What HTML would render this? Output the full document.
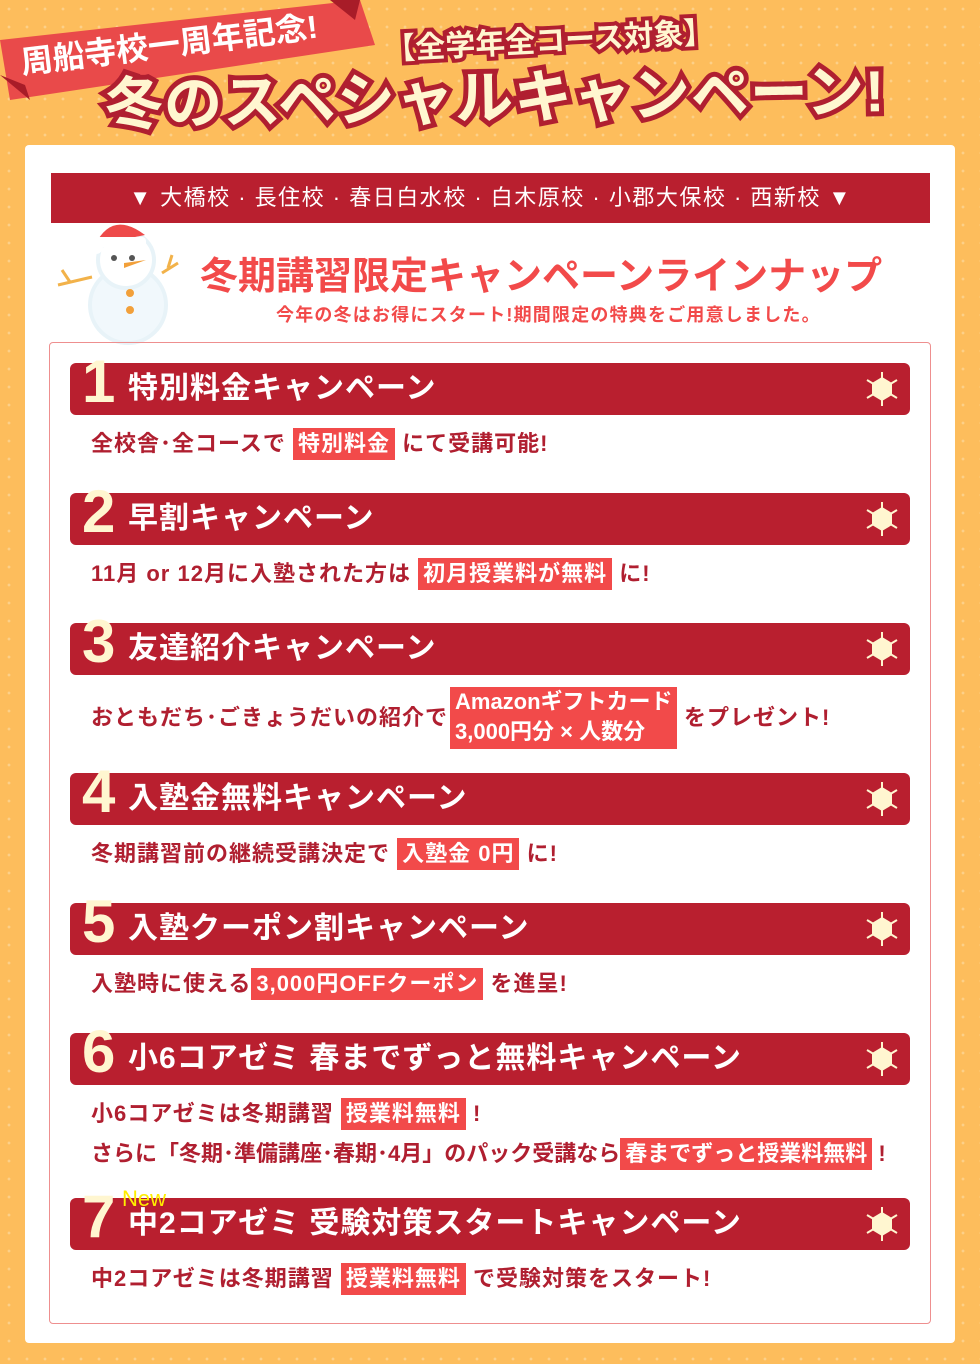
<!DOCTYPE html>
<html><head><meta charset="utf-8"><style>
*{margin:0;padding:0;box-sizing:border-box}
body{width:980px;height:1364px;position:relative;overflow:hidden;background:#fdbd5c;background-image:radial-gradient(#fcd089 1.2px,transparent 1.6px);background-size:18px 18px;font-family:"Liberation Sans","Noto Sans CJK JP",sans-serif;font-weight:bold}
.a{position:absolute;white-space:nowrap}
.panel{left:25px;top:145px;width:930px;height:1198px;background:#fff;border-radius:4px}
.loc{left:51px;top:173px;width:879px;height:50px;background:#b91f2f;color:#fff;font-weight:normal;font-size:22px;letter-spacing:1.5px;text-align:center;line-height:50px}
.box{left:49px;top:342px;width:882px;height:982px;border:1px solid #ee8f8f;border-radius:4px}
.bar{left:70px;width:840px;height:52px;background:#b91f2f;border-radius:6px;color:#fff;font-size:30px;letter-spacing:1px;line-height:52px;padding-left:58px}
.num{position:absolute;left:12px;top:-16px;font-size:60px;color:#fff6d0;line-height:70px;letter-spacing:0}
.flake{position:absolute;right:10px;top:8px;width:36px;height:36px}
.t{left:91px;color:#b01f30;font-size:22px;letter-spacing:1px;line-height:30px}
.h{background:#f24a4a;color:#fff;padding:0 5px;display:inline-block;line-height:32px}
</style></head><body>
<svg class="a" style="left:0;top:0" width="400" height="110"><polygon points="0,40 360,0 375,45 10,100" fill="#e94a4a"/><polygon points="0,75 25,85 30,100" fill="#a81c28"/><polygon points="330,0 360,0 355,20" fill="#a81c28"/></svg>
<div class="a" style="left:18px;top:38px;font-size:32px;color:#fff;transform:rotate(-7deg);transform-origin:left top">周船寺校一周年記念!</div>
<div class="a" style="left:385px;top:16px;font-size:30px;color:#fff6d0;-webkit-text-stroke:8px #b01f30;paint-order:stroke fill;transform:rotate(-3deg)">【全学年全コース対象】</div>
<div class="a" style="left:105px;top:64px;font-size:58px;line-height:70px;color:#fff6d0;-webkit-text-stroke:10px #b01f30;paint-order:stroke fill;transform:rotate(-1deg);letter-spacing:1px">冬のスペシャルキャンペーン!</div>
<div class="a panel"></div>
<div class="a loc">▼ 大橋校 · 長住校 · 春日白水校 · 白木原校 · 小郡大保校 · 西新校 ▼</div>
<svg class="a" style="left:50px;top:205px" width="130" height="140"><circle cx="78" cy="100" r="38" fill="#f1f8fc" stroke="#e8f3f8" stroke-width="4"/><circle cx="76" cy="55" r="28" fill="#fff" stroke="#e8f3f8" stroke-width="4"/><path d="M45 40 Q62 5 95 30 Z" fill="#ee4a4a"/><circle cx="46" cy="42" r="7" fill="#fff"/><rect x="44" y="32" width="52" height="10" fill="#fff" rx="4"/><circle cx="64" cy="53" r="3" fill="#555"/><circle cx="82" cy="53" r="3" fill="#555"/><path d="M74 58 L96 55 L74 63Z" fill="#f2a03a"/><circle cx="80" cy="88" r="4" fill="#f2a03a"/><circle cx="80" cy="105" r="4" fill="#f2a03a"/><path d="M42 72 L8 80 M20 77 L12 65 M112 68 L128 58 M118 63 L122 50" stroke="#f2b24a" stroke-width="3"/></svg>
<div class="a" style="left:200px;top:245px;font-size:38px;color:#f24a4a">冬期講習限定キャンペーンラインナップ</div>
<div class="a" style="left:276px;top:301px;font-size:18px;letter-spacing:1.2px;color:#f24a4a">今年の冬はお得にスタート!期間限定の特典をご用意しました。</div>
<div class="a box"></div>

<div class="a bar" style="top:363px"><span class="num">1</span>特別料金キャンペーン<svg class="flake"><use href="#f"/></svg></div>
<div class="a t" style="top:428px">全校舎･全コースで <span class="h">特別料金</span> にて受講可能!</div>

<div class="a bar" style="top:493px"><span class="num">2</span>早割キャンペーン<svg class="flake"><use href="#f"/></svg></div>
<div class="a t" style="top:558px">11月 or 12月に入塾された方は <span class="h">初月授業料が無料</span> に!</div>

<div class="a bar" style="top:623px"><span class="num">3</span>友達紹介キャンペーン<svg class="flake"><use href="#f"/></svg></div>
<div class="a t" style="top:703px">おともだち･ごきょうだいの紹介で</div>
<div class="a t" style="left:450px;top:687px;background:#f24a4a;color:#fff;padding:0 5px;line-height:30px;width:227px;height:62px;letter-spacing:0">Amazonギフトカード<br>3,000円分 × 人数分</div>
<div class="a t" style="left:684px;top:703px">をプレゼント!</div>

<div class="a bar" style="top:773px"><span class="num">4</span>入塾金無料キャンペーン<svg class="flake"><use href="#f"/></svg></div>
<div class="a t" style="top:838px">冬期講習前の継続受講決定で <span class="h">入塾金 0円</span> に!</div>

<div class="a bar" style="top:903px"><span class="num">5</span>入塾クーポン割キャンペーン<svg class="flake"><use href="#f"/></svg></div>
<div class="a t" style="top:968px">入塾時に使える<span class="h">3,000円OFFクーポン</span> を進呈!</div>

<div class="a bar" style="top:1033px"><span class="num">6</span>小6コアゼミ 春までずっと無料キャンペーン<svg class="flake"><use href="#f"/></svg></div>
<div class="a t" style="top:1098px">小6コアゼミは冬期講習 <span class="h">授業料無料</span> !</div>
<div class="a t" style="top:1138px;letter-spacing:0">さらに「冬期･準備講座･春期･4月」のパック受講なら<span class="h">春までずっと授業料無料</span> !</div>

<div class="a bar" style="top:1198px"><span class="num">7</span>中2コアゼミ 受験対策スタートキャンペーン<svg class="flake"><use href="#f"/></svg></div>
<div class="a" style="left:122px;top:1186px;font-size:22px;color:#ffee00;font-weight:normal">New</div>
<div class="a t" style="top:1263px">中2コアゼミは冬期講習 <span class="h">授業料無料</span> で受験対策をスタート!</div>

<svg width="0" height="0" style="position:absolute"><defs><g id="f"><polygon points="18,6 28,12 28,24 18,30 8,24 8,12" fill="#fff6d0"/><g stroke="#fff6d0" stroke-width="2"><line x1="18" y1="1" x2="18" y2="35"/><line x1="3" y1="9" x2="33" y2="27"/><line x1="3" y1="27" x2="33" y2="9"/></g></g></defs></svg>
</body></html>
